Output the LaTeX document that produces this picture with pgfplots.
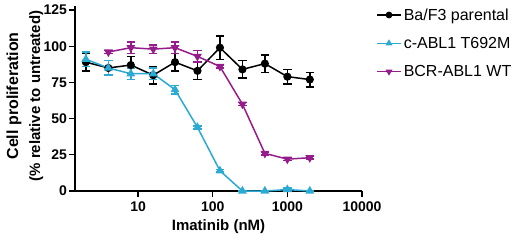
\documentclass[border=0pt]{standalone}
\usepackage{pgfplots}
\pgfplotsset{compat=1.18}
\usepackage{fontspec}
\setmainfont{Liberation Sans}
\definecolor{cyanc}{RGB}{43,170,212}
\definecolor{magc}{RGB}{150,28,140}
\begin{document}
\begin{tikzpicture}
\useasboundingbox (0,0) rectangle (520pt,242pt);
\begin{axis}[
  at={(75pt,51pt)}, anchor=south west,
  scale only axis,
  width=287pt, height=185.3pt,
  xmode=log, log basis x=10,
  xmin=1.43, xmax=10000,
  ymin=0, ymax=128,
  clip=false,
  axis x line*=bottom, axis y line*=left,
  axis line style={line width=1.5pt, -},
  xtick={10,100,1000,10000},
  xticklabels={10,100,1000,10000},
  ytick={0,25,50,75,100,125},
  tick style={line width=1.3pt, black},
  tick align=outside,
  major tick length=6pt, minor tick length=4pt,
  /pgf/number format/assume math mode=true,
  ticklabel style={font=\fontsize{14}{16}\selectfont\bfseries},
  yticklabel style={xshift=1.5pt},
  xticklabel style={yshift=-1pt},
  xlabel={Imatinib (nM)},
  ylabel={{\fontsize{16}{22}\selectfont Cell proliferation}\\[6pt]{\fontsize{15}{22}\selectfont(\% relative to untreated)}},
  ylabel style={align=center, font=\fontsize{16}{16}\selectfont\bfseries,
    at={(axis description cs:-0.175,0.513)}, anchor=center},
  xlabel style={font=\fontsize{15}{17}\selectfont\bfseries,
    at={(axis description cs:0.5,-0.194)}, anchor=center},
  legend style={draw=none, at={(1.049,0.997)}, anchor=north west, inner sep=0pt,
    font=\fontsize{16}{18}\selectfont, row sep=11.5pt, fill=none},
  legend cell align=left,
  legend image code/.code={\draw[mark repeat=2,mark phase=2,#1,line width=1.5pt,mark size=2.6pt] plot coordinates {(0pt,0pt)(12pt,0pt)(24pt,0pt)};},
  every axis plot/.append style={line width=1.5pt},
  error bars/error bar style={line width=1.5pt},
  error bars/error mark options={rotate=90, mark size=4.2pt, line width=1.5pt},
]
\addplot+[black, mark=*, mark size=3.3pt, mark options={fill=black, solid},
  error bars/.cd, y dir=both, y explicit]
coordinates {
 (2,89) +- (0,6)
 (4,85) +- (0,5)
 (8,87) +- (0,6)
 (16,80) +- (0,6)
 (31.25,89) +- (0,6)
 (62.5,83) +- (0,6)
 (125,99) +- (0,8)
 (250,84) +- (0,6)
 (500,88) +- (0,6)
 (1000,79) +- (0,5)
 (2000,77) +- (0,5)
};
\addlegendentry{Ba/F3 parental}
\addplot+[cyanc, mark=triangle*, mark size=3.6pt, mark options={fill=cyanc, solid},
  error bars/.cd, y dir=both, y explicit]
coordinates {
 (2,91) +- (0,5)
 (4,85) +- (0,5)
 (8,81) +- (0,4)
 (16,81) +- (0,4)
 (31.25,70) +- (0,3)
 (62.5,44) +- (0,1)
 (125,14) +- (0,1)
 (250,0) +- (0,0.5)
 (500,0) +- (0,0.5)
 (1000,1) +- (0,1)
 (2000,0) +- (0,0.5)
};
\addlegendentry{c-ABL1 T692M}
\addplot+[magc, mark=triangle*, mark size=3.6pt, mark options={fill=magc, solid, rotate=180},
  error bars/.cd, y dir=both, y explicit]
coordinates {
 (4,96) +- (0,1)
 (8,99) +- (0,4)
 (16,98) +- (0,3)
 (31.25,99) +- (0,4)
 (62.5,93) +- (0,4)
 (125,86) +- (0,1)
 (250,60) +- (0,1)
 (500,26) +- (0,1)
 (1000,22) +- (0,1)
 (2000,23) +- (0,1)
};
\addlegendentry{BCR-ABL1 WT}
\end{axis}
\end{tikzpicture}
\end{document}
